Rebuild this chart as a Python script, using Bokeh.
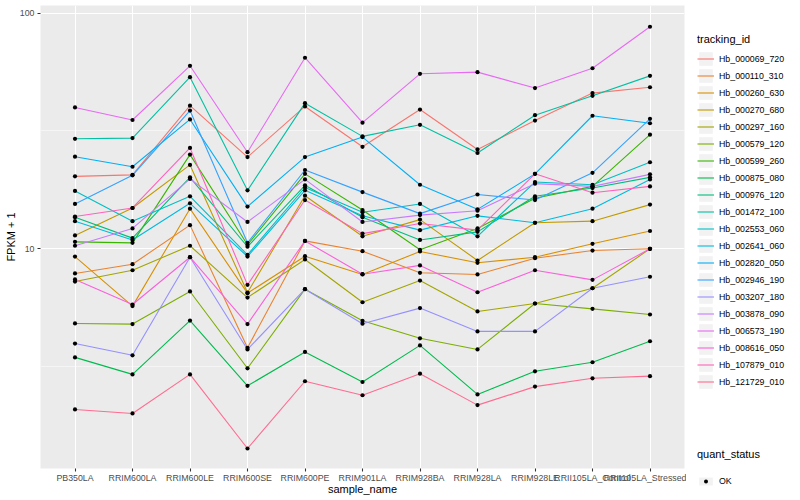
from bokeh.plotting import figure
from bokeh.layouts import row
from bokeh.models import (FactorRange, Range1d, FixedTicker, NumeralTickFormatter,
                          Legend, LegendItem)
from bokeh.embed import file_html
from bokeh.resources import INLINE

samples = ["PB350LA", "RRIM600LA", "RRIM600LE", "RRIM600SE", "RRIM600PE", "RRIM901LA",
           "RRIM928BA", "RRIM928LA", "RRIM928LE", "RRII105LA_Control", "RRII105LA_Stressed"]

tracking_ids = ["Hb_000069_720", "Hb_000110_310", "Hb_000260_630", "Hb_000270_680",
                "Hb_000297_160", "Hb_000579_120", "Hb_000599_260", "Hb_000875_080",
                "Hb_000976_120", "Hb_001472_100", "Hb_002553_060", "Hb_002641_060",
                "Hb_002820_050", "Hb_002946_190", "Hb_003207_180", "Hb_003878_090",
                "Hb_006573_190", "Hb_008616_050", "Hb_107879_010", "Hb_121729_010"]

colors = ["#F8766D", "#EA8331", "#D89000", "#C09B00", "#A3A500", "#7CAE00", "#39B600",
          "#00BB4E", "#00BF7D", "#00C1A3", "#00BFC4", "#00BAE0", "#00B0F6", "#35A2FF",
          "#9590FF", "#C77CFF", "#E76BF3", "#FA62DB", "#FF62BC", "#FF6C91"]

# FPKM + 1 per sample (same order as samples)
hb_000069_720 = [20.3, 20.6, 40.5, 24.5, 40.2, 27.1, 39.0, 26.4, 35.0, 45.8, 48.5]
hb_000110_310 = [7.86, 8.60, 12.6, 3.80, 10.8, 9.77, 7.91, 7.78, 9.12, 9.83, 10.0]
hb_000260_630 = [9.27, 5.71, 14.8, 6.48, 9.30, 7.78, 9.74, 8.72, 9.21, 10.5, 11.9]
hb_000270_680 = [11.4, 14.9, 22.7, 6.52, 16.8, 11.3, 13.3, 8.92, 12.9, 13.1, 15.4]
hb_000297_160 = [7.26, 8.11, 10.3, 6.21, 9.01, 5.93, 7.33, 5.42, 5.86, 6.80, 10.0]
hb_000579_120 = [4.82, 4.79, 6.59, 3.11, 6.74, 4.95, 4.17, 3.74, 5.86, 5.56, 5.26]
hb_000599_260 = [10.7, 10.6, 25.1, 10.4, 20.8, 14.6, 9.90, 12.2, 16.4, 18.4, 30.5]
hb_000875_080 = [3.46, 2.93, 4.96, 2.62, 3.65, 2.72, 3.89, 2.41, 3.02, 3.30, 4.05]
hb_000976_120 = [13.6, 11.1, 20.1, 10.2, 18.6, 13.6, 10.9, 11.8, 16.7, 18.1, 20.1]
hb_001472_100 = [29.3, 29.5, 53.5, 17.7, 41.5, 30.0, 33.6, 25.5, 36.9, 44.6, 54.2]
hb_002553_060 = [17.6, 13.1, 16.7, 9.43, 18.2, 14.3, 15.5, 11.3, 19.2, 18.7, 23.3]
hb_002641_060 = [13.1, 10.9, 15.6, 9.27, 17.7, 13.8, 12.0, 13.8, 12.9, 14.8, 19.7]
hb_002820_050 = [24.6, 22.3, 35.4, 15.1, 24.5, 29.8, 18.7, 14.7, 20.8, 36.7, 34.1]
hb_002946_190 = [15.5, 20.5, 38.6, 10.6, 21.6, 17.4, 14.1, 17.0, 16.1, 21.0, 35.6]
hb_003207_180 = [3.96, 3.53, 9.21, 3.74, 6.74, 4.81, 5.60, 4.46, 4.46, 6.80, 7.61]
hb_003878_090 = [10.3, 12.2, 19.8, 13.0, 19.7, 13.0, 13.9, 14.5, 18.9, 18.4, 20.7]
hb_006573_190 = [39.8, 35.2, 59.8, 25.7, 64.7, 34.3, 55.3, 56.2, 48.1, 58.4, 87.6]
hb_008616_050 = [7.41, 5.80, 9.21, 4.79, 10.8, 7.80, 8.50, 6.54, 8.11, 7.38, 10.0]
hb_107879_010 = [13.7, 14.9, 26.8, 7.03, 16.1, 11.6, 12.8, 12.0, 20.8, 17.3, 18.4]
hb_121729_010 = [2.08, 2.00, 2.93, 1.42, 2.74, 2.39, 2.95, 2.17, 2.60, 2.82, 2.88]

series = [hb_000069_720, hb_000110_310, hb_000260_630, hb_000270_680, hb_000297_160,
          hb_000579_120, hb_000599_260, hb_000875_080, hb_000976_120, hb_001472_100,
          hb_002553_060, hb_002641_060, hb_002820_050, hb_002946_190, hb_003207_180,
          hb_003878_090, hb_006573_190, hb_008616_050, hb_107879_010, hb_121729_010]

quant_status = "OK"

FONT = "Liberation Sans"
NAN = float("nan")

p = figure(width=686, height=500, output_backend="svg", toolbar_location=None,
           x_range=FactorRange(*samples, range_padding=0.2 / 11),
           y_range=Range1d(1.168, 107.8), y_axis_type="log",
           min_border_left=40, min_border_right=2, min_border_top=5,
           min_border_bottom=32)
p.frame_align = False
p.background_fill_color = "#EBEBEB"
p.border_fill_color = "white"
p.outline_line_color = None

# grids
p.xgrid.grid_line_color = "white"
p.xgrid.grid_line_width = 1.07
yt = FixedTicker(ticks=[10, 100], minor_ticks=[3.1623, 31.623])
p.yaxis.ticker = yt
p.ygrid.ticker = yt
p.ygrid.grid_line_color = "white"
p.ygrid.grid_line_width = 1.07
p.ygrid.minor_grid_line_color = "white"
p.ygrid.minor_grid_line_width = 0.53
p.yaxis.formatter = NumeralTickFormatter(format="0")

for ax in (p.xaxis, p.yaxis):
    ax.axis_line_color = None
    ax.major_tick_line_color = "#333333"
    ax.major_tick_line_width = 1.07
    ax.major_tick_out = 3
    ax.major_tick_in = 0
    ax.minor_tick_line_color = None
    ax.major_label_text_font = FONT
    ax.major_label_text_font_size = "8.8px"
    ax.major_label_text_color = "#4D4D4D"
    ax.axis_label_text_font = FONT
    ax.axis_label_text_font_size = "11px"
    ax.axis_label_text_font_style = "normal"
    ax.axis_label_text_color = "black"
p.xaxis.major_label_standoff = 1
p.xaxis.axis_label_standoff = -3
p.yaxis.major_label_standoff = 2
p.yaxis.axis_label_standoff = 0
p.xaxis.axis_label = "sample_name"
p.yaxis.axis_label = "FPKM + 1"

for vals, col in zip(series, colors):
    p.line(x=samples, y=vals, line_color=col, line_width=1.1)

xs_all = [s for vals in series for s in samples]
ys_all = [v for vals in series for v in vals]
p.scatter(x=xs_all, y=ys_all, size=4.2, fill_color="black", line_color=None,
          marker="circle")

# ---- legend panel (separate figure to the right of the plot) ----
lf = figure(width=114, height=500, output_backend="svg", toolbar_location=None,
            x_range=(0, 1), y_range=(0, 1), x_axis_location=None, y_axis_location=None,
            min_border=0)
lf.frame_align = False
lf.outline_line_color = None
lf.xgrid.visible = False
lf.ygrid.visible = False

# key glyph templates (NaN data: nothing drawn in the panel, only used by the legends)
bg = lf.quad(left=[NAN], right=[NAN], top=[NAN], bottom=[NAN],
             fill_color="#F2F2F2", line_color=None)
key_lines = [lf.line(x=[NAN], y=[NAN], line_color=col, line_width=1.1) for col in colors]
key_pt = lf.scatter(x=[NAN], y=[NAN], fill_color="black", line_color=None, marker="circle")

def style_legend(leg, gw=17, gh=17):
    leg.title_text_font = FONT
    leg.title_text_font_size = "11px"
    leg.title_text_font_style = "normal"
    leg.title_text_color = "black"
    leg.label_text_font = FONT
    leg.label_text_font_size = "8.8px"
    leg.label_text_color = "black"
    leg.glyph_width = gw
    leg.glyph_height = gh
    leg.label_height = gh
    leg.label_standoff = 5
    leg.spacing = 0
    leg.padding = 0
    leg.margin = 0
    leg.background_fill_alpha = 0
    leg.border_line_color = None

items = [LegendItem(label=tid, renderers=[bg, r]) for tid, r in zip(tracking_ids, key_lines)]
leg1 = Legend(items=items, title="tracking_id", location=(11, 110), title_standoff=5)
style_legend(leg1)
lf.add_layout(leg1)

leg2 = Legend(items=[LegendItem(label=quant_status, renderers=[bg, key_pt])],
              title="quant_status", location=(11, 14), title_standoff=16)
style_legend(leg2, gw=17, gh=10)
lf.add_layout(leg2)

layout = row(p, lf, spacing=0)
open("out.html", "w").write(file_html(layout, INLINE))
